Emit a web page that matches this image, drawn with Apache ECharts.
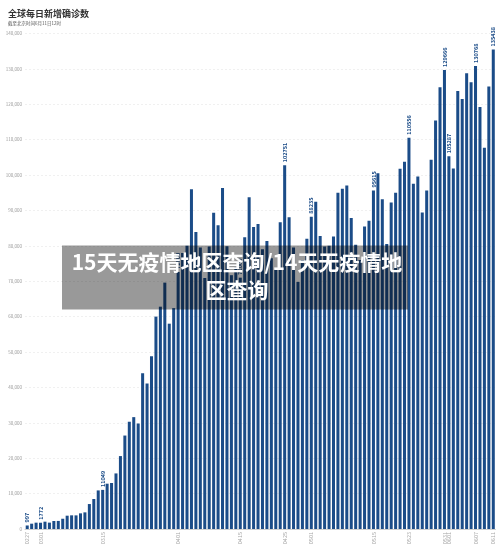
<!DOCTYPE html>
<html>
<head>
<meta charset="utf-8">
<script src="https://cdn.jsdelivr.net/npm/echarts@6/dist/echarts.min.js"></script>
<style>
html,body{margin:0;padding:0;background:#fff;}
#chart{width:500px;height:555px;}
</style>
</head>
<body>
<div id="chart"></div>
<script>
var titleText = '全球每日新增确诊数';
var subtitleText = '截至北京时间6月11日12时';
var overlayText = '15天无疫情地区查询/14天无疫情地\n区查询';

var dates = [
  '0227','0228','0229',
  '0301','0302','0303','0304','0305','0306','0307','0308','0309','0310',
  '0311','0312','0313','0314','0315','0316','0317','0318','0319','0320',
  '0321','0322','0323','0324','0325','0326','0327','0328','0329','0330','0331',
  '0401','0402','0403','0404','0405','0406','0407','0408','0409','0410',
  '0411','0412','0413','0414','0415','0416','0417','0418','0419','0420',
  '0421','0422','0423','0424','0425','0426','0427','0428','0429','0430',
  '0501','0502','0503','0504','0505','0506','0507','0508','0509','0510',
  '0511','0512','0513','0514','0515','0516','0517','0518','0519','0520',
  '0521','0522','0523','0524','0525','0526','0527','0528','0529','0530','0531',
  '0601','0602','0603','0604','0605','0606','0607','0608','0609','0610','0611'
];

var newCases = [
  997, 1500, 1790, 1772, 2070, 1800, 2260, 2280, 2900, 3760,
  3860, 3850, 4420, 4700, 7050, 8470, 10900, 11049, 12800, 13000,
  15700, 20600, 26400, 30300, 31600, 29800, 44000, 41100, 48800, 60000,
  62800, 69600, 58000, 62400, 72600, 78000, 80000, 96000, 83900, 79500,
  70900, 79800, 89350, 85790, 96330, 79860, 71700, 74000, 71000, 82400,
  93700, 85300, 86160, 79000, 81360, 76500, 73600, 86640, 102751, 88050,
  79500, 69800, 76000, 82000, 88235, 92460, 82770, 79800, 80000, 82650,
  94980, 96100, 97040, 87820, 80310, 76000, 85470, 87080, 95615, 100510,
  93170, 80480, 92240, 94980, 101750, 103720, 110556, 97520, 99580, 89420,
  95630, 104290, 115370, 124770, 129666, 105287, 101830, 123750, 121490, 128720,
  126180, 130768, 119240, 107670, 124970, 135438
];

var labeledDates = ['0227','0301','0315','0401','0415','0425','0501','0515','0523','0531','0601','0607','0611'];

var yMin = 0, yMax = 140000, yStep = 10000;

var barColor = '#1b4c88';

var seriesData = newCases.map(function (v, i) {
  var show = labeledDates.indexOf(dates[i]) >= 0;
  return { value: v, label: { show: show } };
});

var chart = echarts.init(document.getElementById('chart'), null, { renderer: 'canvas' });
chart.setOption({
  animation: false,
  backgroundColor: '#ffffff',
  textStyle: { fontFamily: '"Noto Sans CJK SC", "Noto Sans", sans-serif' },
  title: {
    text: titleText,
    subtext: subtitleText,
    left: 3,
    top: 4,
    itemGap: 3,
    textStyle: { fontSize: 9, fontWeight: 'bold', color: '#333333', fontFamily: '"Noto Sans CJK SC", sans-serif' },
    subtextStyle: { fontSize: 4.5, color: '#555555', fontFamily: '"Noto Sans CJK SC", sans-serif' }
  },
  grid: { left: 25, right: 4.5, top: 33.4, bottom: 26, containLabel: false },
  xAxis: {
    type: 'category',
    data: dates,
    axisTick: { show: false },
    axisLine: { lineStyle: { color: '#d0d0d0', width: 1 } },
    axisLabel: {
      rotate: 90,
      fontSize: 5.5,
      color: '#a8a8a8',
      margin: 3,
      interval: function (index, value) { return labeledDates.indexOf(value) >= 0; }
    }
  },
  yAxis: {
    type: 'value',
    min: yMin,
    max: yMax,
    interval: yStep,
    axisLine: { show: false },
    axisTick: { show: false },
    axisLabel: { fontSize: 4.5, color: '#9a9a9a', margin: 3 },
    splitLine: { lineStyle: { color: '#e6e6e6', type: [2, 2], width: 0.6 } }
  },
  series: [{
    type: 'bar',
    data: seriesData,
    barWidth: '68%',
    itemStyle: { color: barColor },
    label: {
      position: 'top',
      rotate: 90,
      align: 'left',
      verticalAlign: 'middle',
      distance: 3,
      fontSize: 5.5,
      color: barColor,
      fontWeight: 'bold'
    }
  }],
  graphic: [
    {
      type: 'rect',
      z: 100,
      shape: { x: 62, y: 245.5, width: 346, height: 64 },
      style: { fill: 'rgba(0,0,0,0.4)' }
    },
    {
      type: 'text',
      z: 101,
      x: 237,
      y: 276,
      style: {
        text: overlayText,
        fill: '#ffffff',
        fontSize: 21,
        fontWeight: 'bold',
        lineHeight: 28,
        align: 'center',
        verticalAlign: 'middle',
        fontFamily: '"Noto Sans CJK SC", sans-serif'
      }
    }
  ]
});
</script>
</body>
</html>
